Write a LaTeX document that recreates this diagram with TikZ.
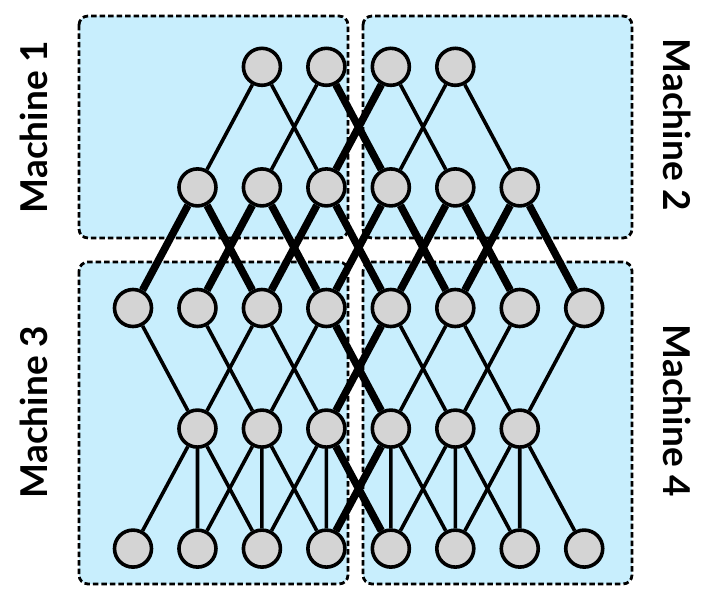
\documentclass[tikz,border=0pt]{standalone}
\usepackage{fontspec}
\setmainfont{Lato}
\usetikzlibrary{positioning}

\definecolor{boxblue}{RGB}{200,238,253}
\definecolor{nodegray}{RGB}{212,212,212}

\begin{document}
\begin{tikzpicture}[
  x=1pt, y=-1pt,
  node distance=80pt and 23.86pt,
  every node/.style={font=\fontsize{37}{44}\selectfont\bfseries},
  neuron/.style={draw, circle, fill=nodegray, line width=3.6pt, minimum size=37pt, inner sep=0pt},
  machine/.style={draw, fill=boxblue, line width=2.8pt, dash pattern=on 5.5pt off 3pt, rounded corners=9pt},
  link/.style={line width=3.6pt},
  mainlink/.style={line width=7.5pt}
]
\useasboundingbox (0,0) rectangle (710,602);

% Machines
\draw[machine] (79,16) rectangle (348,238);
\draw[machine] (363,16) rectangle (632,238);
\draw[machine] (79,262) rectangle (348,584);
\draw[machine] (363,262) rectangle (632,584);

\node[rotate=90] (m1) at (34,127) {Machine 1};
\node[rotate=-90] (m2) at (677,125) {Machine 2};
\node[rotate=90] (m3) at (34,412) {Machine 3};
\node[rotate=-90] (m4) at (677,411) {Machine 4};

% Middle layer
\node[neuron] (n30) at (133,308) {};
\foreach \c [count=\p from 0] in {1,...,7}
  \node[neuron, right=of n3\p] (n3\c) {};

% Upper layers
\foreach \c in {1,...,6}
  \node[neuron, above=of n3\c] (n2\c) {};
\foreach \c in {2,...,5}
  \node[neuron, above=of n2\c] (n1\c) {};

% Lower layers
\foreach \c in {1,...,6}
  \node[neuron, below=of n3\c] (n4\c) {};
\foreach \c in {0,...,7}
  \node[neuron, below=200pt of n3\c] (n5\c) {};

% Links between layers
\foreach \c [evaluate=\c as \l using int(\c-1), evaluate=\c as \r using int(\c+1)] in {2,...,5}
  \draw[link] (n1\c) -- (n2\l) (n1\c) -- (n2\r);
\foreach \c [evaluate=\c as \l using int(\c-1), evaluate=\c as \r using int(\c+1)] in {1,...,6}
  \draw[mainlink] (n2\c) -- (n3\l) (n2\c) -- (n3\r);
\foreach \c [evaluate=\c as \l using int(\c-1), evaluate=\c as \r using int(\c+1)] in {1,...,6}
  \draw[link] (n4\c) -- (n3\l) (n4\c) -- (n3\r);
\foreach \c [evaluate=\c as \l using int(\c-1), evaluate=\c as \r using int(\c+1)] in {1,...,6}
  \draw[link] (n4\c) -- (n5\l) (n4\c) -- (n5\c) (n4\c) -- (n5\r);

% Links across machines
\draw[mainlink] (n13) -- (n24) (n14) -- (n23);
\draw[mainlink] (n33) -- (n44) (n34) -- (n43);
\draw[mainlink] (n43) -- (n54) (n44) -- (n53);

\end{tikzpicture}
\end{document}
